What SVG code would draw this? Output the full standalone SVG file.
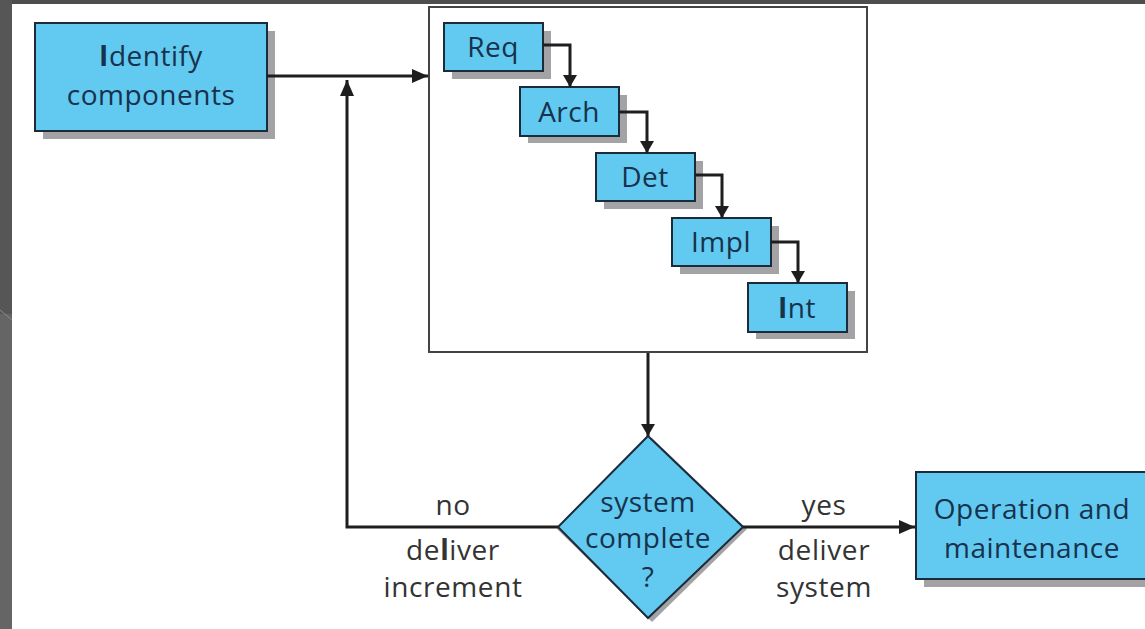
<svg xmlns="http://www.w3.org/2000/svg" width="1145" height="629" viewBox="0 0 1145 629">
  <defs>
    <marker id="arrow" viewBox="0 0 12 14" refX="12" refY="7" markerWidth="12" markerHeight="14" markerUnits="userSpaceOnUse" orient="auto">
      <path d="M0,0 L12,7 L0,14 z" fill="#1e1e1e"/>
    </marker>
    <marker id="arrowBig" viewBox="0 0 16 14" refX="16" refY="7" markerWidth="16" markerHeight="14" markerUnits="userSpaceOnUse" orient="auto">
      <path d="M0,0 L16,7 L0,14 z" fill="#1e1e1e"/>
    </marker>
  </defs>
  <style>
    .box { fill: #62c9f0; stroke: #1b2b3a; stroke-width: 2; }
    .shadow { fill: #a3a3a6; }
    .btxt { font-family: "Open Sans", "Lato", sans-serif; font-size: 28px; letter-spacing: 0.5px; fill: #17324c; text-anchor: middle; }
    .lbl { font-family: "Open Sans", "Lato", sans-serif; font-size: 28px; letter-spacing: 0.6px; fill: #333333; text-anchor: middle; }
    .conn { fill: none; stroke: #1e1e1e; stroke-width: 3; }
    .frame { fill: #ffffff; stroke: #444444; stroke-width: 2; }
  </style>

  <!-- slide background -->
  <rect x="0" y="0" width="1145" height="629" fill="#ffffff"/>
  <rect x="0" y="0" width="1145" height="4" fill="#4d4d4d"/>
  <rect x="0" y="0" width="12" height="629" fill="#656565"/>
  <rect x="0" y="0" width="12" height="314" fill="#565656"/>
  <line x1="0" y1="310" x2="12" y2="320" stroke="#8a8a8a" stroke-width="1"/>

  <!-- increment frame -->
  <g id="increment-frame">
    <rect class="frame" x="429" y="7" width="438" height="345"/>
  </g>

  <g id="identify">
    <rect class="shadow" x="43" y="31" width="232" height="108"/>
    <rect class="box" x="35" y="23" width="232" height="108"/>
    <text class="btxt" x="151" y="66"><tspan font-weight="bold">I</tspan>dentify</text>
    <text class="btxt" x="151" y="105">components</text>
  </g>

  <g id="req">
    <rect class="shadow" x="452" y="31" width="99" height="48"/>
    <rect class="box" x="444" y="23" width="99" height="48"/>
    <text class="btxt" x="493" y="57">Req</text>
  </g>
  <g id="arch">
    <rect class="shadow" x="528" y="95" width="99" height="48"/>
    <rect class="box" x="520" y="87" width="99" height="49"/>
    <text class="btxt" x="569" y="122">Arch</text>
  </g>
  <g id="det">
    <rect class="shadow" x="604" y="161" width="99" height="48"/>
    <rect class="box" x="596" y="153" width="99" height="48"/>
    <text class="btxt" x="645" y="187">Det</text>
  </g>
  <g id="impl">
    <rect class="shadow" x="680" y="226" width="99" height="48"/>
    <rect class="box" x="672" y="218" width="99" height="48"/>
    <text class="btxt" x="721" y="252">Impl</text>
  </g>
  <g id="int">
    <rect class="shadow" x="756" y="291" width="99" height="48"/>
    <rect class="box" x="748" y="283" width="99" height="49"/>
    <text class="btxt" x="797" y="318"><tspan font-weight="bold">I</tspan>nt</text>
  </g>

  <g id="decision">
    <polygon class="shadow" points="652,438 747,529 652,622 557,529"/>
    <polygon class="box" points="648,436 743,527 648,618 558,527"/>
    <text class="btxt" x="648" y="512">system</text>
    <text class="btxt" x="648" y="548">complete</text>
    <text class="btxt" x="648" y="587" font-size="21">?</text>
  </g>

  <g id="operation">
    <rect class="shadow" x="924" y="480" width="230" height="107"/>
    <rect class="box" x="916" y="472" width="240" height="107"/>
    <text class="btxt" x="1032" y="519">Operation and</text>
    <text class="btxt" x="1032" y="558">maintenance</text>
  </g>

  <g id="connectors">
    <line class="conn" x1="267" y1="76" x2="428" y2="76" marker-end="url(#arrowBig)"/>
    <polyline class="conn" points="543,45 570,45 570,87" marker-end="url(#arrow)"/>
    <polyline class="conn" points="619,112 647,112 647,153" marker-end="url(#arrow)"/>
    <polyline class="conn" points="695,175 722,175 722,218" marker-end="url(#arrow)"/>
    <polyline class="conn" points="771,242 798,242 798,283" marker-end="url(#arrow)"/>
    <line class="conn" x1="648" y1="353" x2="648" y2="436" marker-end="url(#arrow)"/>
    <polyline class="conn" points="558,527 347,527 347,80" marker-end="url(#arrowBig)"/>
    <line class="conn" x1="743" y1="527" x2="915" y2="527" marker-end="url(#arrowBig)"/>
    <text class="lbl" x="453" y="515">no</text>
    <text class="lbl" x="453" y="560">de<tspan font-weight="bold">l</tspan>iver</text>
    <text class="lbl" x="453" y="597">increment</text>
    <text class="lbl" x="824" y="515">yes</text>
    <text class="lbl" x="824" y="560">deliver</text>
    <text class="lbl" x="824" y="597">system</text>
  </g>
</svg>
